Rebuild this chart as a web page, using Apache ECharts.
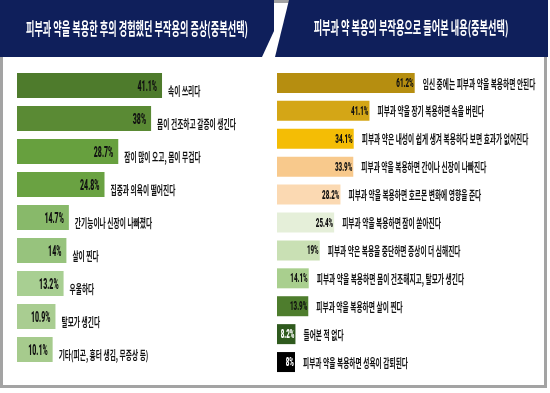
<!DOCTYPE html>
<html><head><meta charset="utf-8">
<script src="https://cdn.jsdelivr.net/npm/echarts@6/dist/echarts.min.js"></script>
<style>html,body{margin:0;padding:0;background:#fff}#c{width:550px;height:393px}</style>
</head><body><div id="c"></div>
<script>
const leftTitle = '피부과 약을 복용한 후의 경험했던 부작용의 증상(중복선택)';
const rightTitle = '피부과 약 복용의 부작용으로 들어본 내용(중복선택)';
const leftCats = ['속이 쓰리다','몸이 건조하고 갈증이 생긴다','잠이 많이 오고, 몸이 무겁다','집중과 의욕이 떨어진다','간기능이나 신장이 나빠졌다','살이 찐다','우울하다','탈모가 생긴다','기타(피곤, 흉터 생김, 무증상 등)'];
const leftVals = [41.1, 38, 28.7, 24.8, 14.7, 14, 13.2, 10.9, 10.1];
const leftLabels = ['41.1%','38%','28.7%','24.8%','14.7%','14%','13.2%','10.9%','10.1%'];
const leftColors = ['#4e7b2c','#5a8a34','#67a03e','#6aa242','#88b96a','#97c37d','#a8cf92','#a9cd91','#a6cb8d'];
const rightCats = ['임신 중에는 피부과 약을 복용하면 안된다','피부과 약을 장기 복용하면 속을 버린다','피부과 약은 내성이 쉽게 생겨 복용하다 보면 효과가 없어진다','피부과 약을 복용하면 간이나 신장이 나빠진다','피부과 약을 복용하면 호르몬 변화에 영향을 준다','피부과 약을 복용하면 잠이 쏟아진다','피부과 약은 복용을 중단하면 증상이 더 심해진다','피부과 약을 복용하면 몸이 건조해지고, 탈모가 생긴다','피부과 약을 복용하면 살이 찐다','들어본 적 없다','피부과 약을 복용하면 성욕이 감퇴된다'];
const rightVals = [61.2, 41.1, 34.1, 33.9, 28.2, 25.4, 19, 14.1, 13.9, 8.2, 8];
const rightLabels = ['61.2%','41.1%','34.1%','33.9%','28.2%','25.4%','19%','14.1%','13.9%','8.2%','8%'];
const rightColors = ['#b68e10','#d4a616','#f4bd05','#f8c98c','#fbd9b2','#e5efd9','#c9e0b4','#a9cf8e','#4e7d2d','#2f5a1e','#000000'];
const rightValColors = ['#111','#111','#111','#111','#111','#111','#111','#111','#111','#fff','#fff'];

const KR = '"Noto Sans CJK KR", "Noto Sans", sans-serif';
const chart = echarts.init(document.getElementById('c'), null, {renderer:'canvas'});

function labelSeries(idx, vals, valLabels, cats, valColors, opts) {
  return {
    type: 'custom', xAxisIndex: idx, yAxisIndex: idx, z: 5, silent: true,
    data: vals.map((v, i) => [v, i]),
    encode: {x: 0, y: 1},
    renderItem: function (params, api) {
      const v = api.value(0), i = api.value(1);
      const p = api.coord([v, i]);
      return {
        type: 'group',
        children: [
          { type: 'text', x: p[0] - opts.inset, y: p[1] + opts.valDy, scaleX: opts.valScale,
            style: { text: valLabels[i], x: 0, y: 0, align: 'right', verticalAlign: 'middle',
              font: '900 ' + opts.valSize + 'px Roboto, sans-serif', fill: valColors[i] } },
          { type: 'text', x: p[0] + opts.gap, y: p[1] + opts.catDy, scaleX: 0.56,
            style: { text: cats[i], x: 0, y: 0, align: 'left', verticalAlign: 'middle',
              font: '700 12px ' + KR, fill: '#111' } }
        ]
      };
    }
  };
}

chart.setOption({
  animation: false,
  backgroundColor: '#fff',
  grid: [
    {left: 17, top: 69, width: 247, height: 297},
    {left: 277, top: 69, width: 225, height: 307}
  ],
  xAxis: [
    {gridIndex: 0, type: 'value', min: 0, max: 70, show: false},
    {gridIndex: 1, type: 'value', min: 0, max: 100, show: false}
  ],
  yAxis: [
    {gridIndex: 0, type: 'category', data: leftCats, inverse: true, show: false},
    {gridIndex: 1, type: 'category', data: rightCats, inverse: true, show: false}
  ],
  graphic: [
    {type: 'rect', z: 0, shape: {x: 1.5, y: 1.5, width: 544, height: 385}, style: {fill: 'none', stroke: '#a3a3a3', lineWidth: 3}},
    {type: 'polygon', z: 1, shape: {points: [[0,0],[274,0],[274,31],[262,57],[0,57]]}, style: {fill: '#0f1f5b'}},
    {type: 'polygon', z: 1, shape: {points: [[289,0],[548,0],[548,57],[275,57]]}, style: {fill: '#0f1f5b'}},
    {type: 'text', z: 2, x: 137, y: 29, scaleX: 0.54, style: {text: leftTitle, x: 0, y: 0, align: 'center', verticalAlign: 'middle', font: 'bold 17px ' + KR, fill: '#fff'}},
    {type: 'text', z: 2, x: 411, y: 28, scaleX: 0.54, style: {text: rightTitle, x: 0, y: 0, align: 'center', verticalAlign: 'middle', font: 'bold 17px ' + KR, fill: '#fff'}}
  ],
  series: [
    {type: 'bar', xAxisIndex: 0, yAxisIndex: 0, barWidth: 25, silent: true,
     data: leftVals.map((v, i) => ({value: v, itemStyle: {color: leftColors[i]}}))},
    {type: 'bar', xAxisIndex: 1, yAxisIndex: 1, barWidth: 20, silent: true,
     data: rightVals.map((v, i) => ({value: v, itemStyle: {color: rightColors[i]}}))},
    labelSeries(0, leftVals, leftLabels, leftCats, leftVals.map(() => '#111'),
      {inset: 5, gap: 6, valDy: 2, catDy: 6, valScale: 0.5, valSize: 14}),
    labelSeries(1, rightVals, rightLabels, rightCats, rightValColors,
      {inset: 1, gap: 8, valDy: 1, catDy: 1, valScale: 0.52, valSize: 12})
  ]
});
</script>
</body></html>
